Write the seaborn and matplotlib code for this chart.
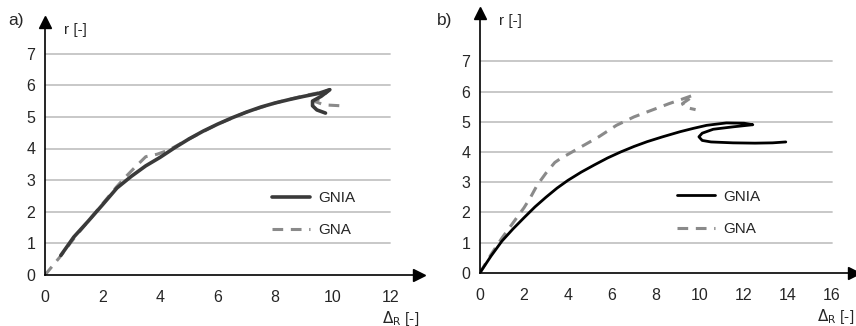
import numpy as np
import pandas as pd
import matplotlib
matplotlib.use("Agg")
import matplotlib.pyplot as plt
import seaborn as sns

# panel a)
a_gnia_x = [0.55, 1.0, 1.5, 2.0, 2.5, 3.0, 3.5, 4.0, 4.5, 5.0, 5.5, 6.0, 6.5, 7.0, 7.5, 8.0, 8.5, 9.0, 9.5, 9.9,
            9.6, 9.3, 9.3, 9.45, 9.75]
a_gnia_y = [0.62, 1.2, 1.7, 2.22, 2.75, 3.12, 3.45, 3.72, 4.02, 4.3, 4.55, 4.77, 4.97, 5.15, 5.31, 5.44, 5.55, 5.65, 5.74, 5.86,
            5.65, 5.5, 5.35, 5.22, 5.12]
a_gna_x = [0, 0.5, 1.0, 1.5, 2.0, 2.5, 2.8, 3.1, 3.5, 3.9, 4.3, 5.0, 6.0, 7.0, 8.0, 9.0, 9.6, 9.9,
           9.6, 9.4, 9.7, 10.3]
a_gna_y = [0, 0.55, 1.15, 1.7, 2.25, 2.8, 3.1, 3.38, 3.74, 3.82, 3.95, 4.3, 4.77, 5.15, 5.44, 5.67, 5.78, 5.86,
           5.62, 5.48, 5.38, 5.35]

# panel b)
b_gnia_x = [0, 0.5, 1.0, 1.5, 2.0, 2.5, 3.0, 3.5, 4.0, 4.6, 5.2, 5.8, 6.4, 7.0, 7.6, 8.3, 9.1, 9.7, 10.3, 11.2, 12.0, 12.4,
            11.5, 10.6, 10.1, 9.95, 10.1, 10.5, 11.5, 12.5, 13.3, 13.9]
b_gnia_y = [0, 0.55, 1.05, 1.45, 1.82, 2.18, 2.5, 2.8, 3.06, 3.33, 3.57, 3.8, 4.0, 4.18, 4.34, 4.5, 4.67, 4.78, 4.88, 4.96, 4.95, 4.9,
            4.83, 4.75, 4.62, 4.5, 4.38, 4.33, 4.3, 4.29, 4.3, 4.33]
b_gna_x = [0, 0.5, 1.0, 1.5, 2.0, 2.3, 2.6, 3.0, 3.4, 3.7, 4.0, 4.6, 5.4, 6.2, 7.0, 7.8, 8.6, 9.2, 9.7,
           9.5, 9.2, 9.3, 9.8]
b_gna_y = [0, 0.6, 1.15, 1.65, 2.15, 2.5, 2.9, 3.3, 3.65, 3.8, 3.92, 4.17, 4.5, 4.88, 5.16, 5.38, 5.6, 5.75, 5.88,
           5.75, 5.6, 5.48, 5.4]

y_ticks = [0, 1, 2, 3, 4, 5, 6, 7]
a_x_ticks = [0, 2, 4, 6, 8, 10, 12]
b_x_ticks = [0, 2, 4, 6, 8, 10, 12, 14, 16]

sns.set_style("white")
plt.rcParams['font.family'] = ['Liberation Sans', 'DejaVu Sans']

fig = plt.figure(figsize=(8.56, 3.26), dpi=100)
ax_a = fig.add_axes([45/856, 51/326, 374/856, 253/326])
ax_b = fig.add_axes([480/856, 53.3/326, 374/856, 259.7/326])


def draw(ax, gnia_x, gnia_y, gna_x, gna_y, xticks, xmax, ymax, gnia_col, gnia_lw, tag, tag_xy, leg_anchor):
    # light horizontal grid, only up to last tick
    for t in y_ticks[1:]:
        ax.plot([0, xticks[-1]], [t, t], color="#c4c4c4", lw=1.3, zorder=1)

    sns.lineplot(x=gna_x, y=gna_y, sort=False, estimator=None, ax=ax,
                 color="#8a8a8a", lw=2.2, linestyle=(0, (3.5, 2.5)),
                 label="GNA", zorder=2)
    sns.lineplot(x=gnia_x, y=gnia_y, sort=False, estimator=None, ax=ax,
                 color=gnia_col, lw=gnia_lw, label="GNIA", zorder=3)

    ax.set_xlim(0, xmax)
    ax.set_ylim(0, ymax)
    ax.set_xticks(xticks)
    ax.set_yticks(y_ticks)
    ax.tick_params(axis="x", direction="out", length=4, width=1, pad=7, labelsize=11.5, color="#555555")
    ax.tick_params(axis="y", length=0, pad=7, labelsize=11.5)
    for s in ["top", "right"]:
        ax.spines[s].set_visible(False)
    for s in ["left", "bottom"]:
        ax.spines[s].set_color("black")
        ax.spines[s].set_linewidth(1.2)
    ax.set_xlabel("")
    ax.set_ylabel("")

    # axis arrows
    ax.plot(1, 0, ">k", ms=9, transform=ax.transAxes, clip_on=False)
    ax.plot(0, 1, "^k", ms=9, transform=ax.transAxes, clip_on=False)

    ax.text(0.05, 0.97, "r [-]", transform=ax.transAxes, fontsize=11, va="center", ha="left")
    ax.text(1.0, -0.17, r"$\Delta_\mathrm{R}$ [-]", transform=ax.transAxes, fontsize=11,
            va="center", ha="right")
    fig.text(tag_xy[0], tag_xy[1], tag, fontsize=12.5, ha="left", va="center")

    h, l = ax.get_legend_handles_labels()
    ax.legend(h[::-1], l[::-1], frameon=False, loc="center left", bbox_to_anchor=leg_anchor,
              fontsize=11, handlelength=2.5, handletextpad=0.5, labelspacing=1.2)


draw(ax_a, a_gnia_x, a_gnia_y, a_gna_x, a_gna_y, a_x_ticks, 13, 8, "#3a3a3a", 2.6,
     "a)", (8/856, 1 - 20/326), (0.57, 0.24))
draw(ax_b, b_gnia_x, b_gnia_y, b_gna_x, b_gna_y, b_x_ticks, 17, 8.6, "black", 2.0,
     "b)", (437/856, 1 - 20/326), (0.49, 0.23))

fig.savefig("out.png", dpi=100)
